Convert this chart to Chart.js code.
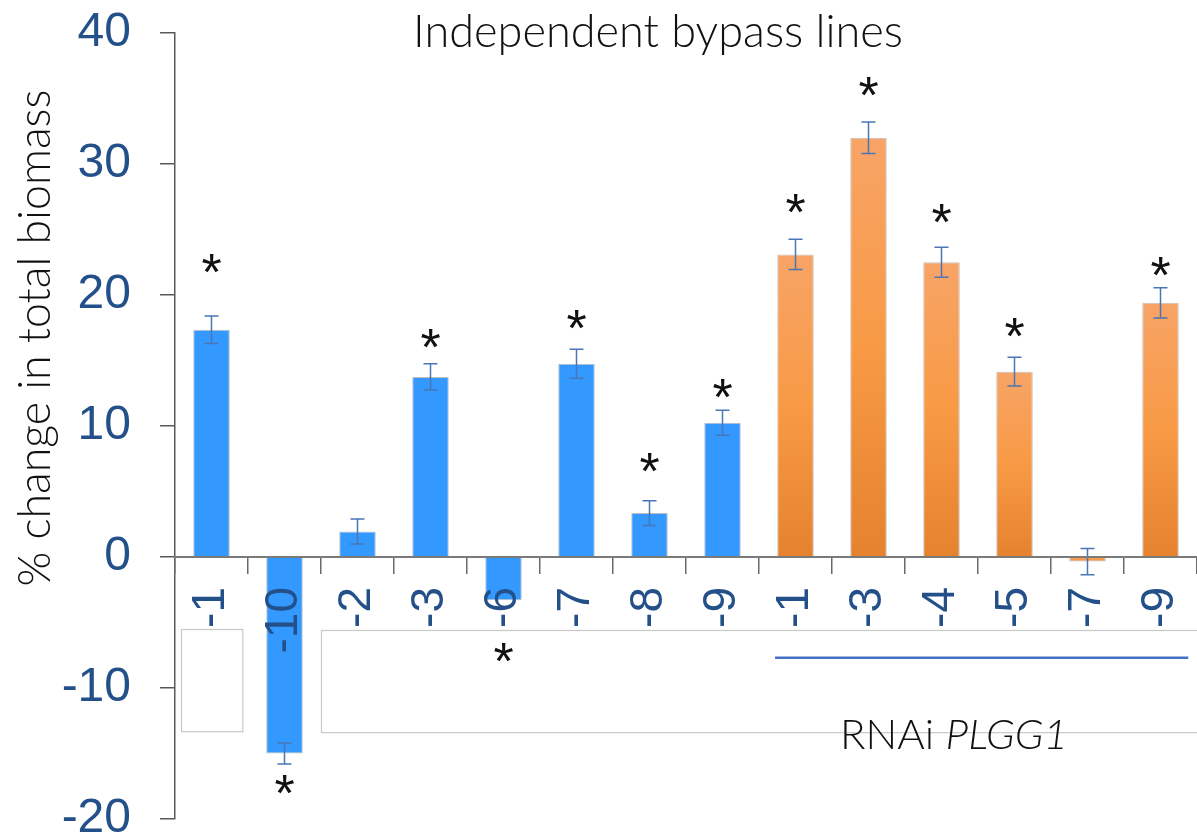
<!DOCTYPE html>
<html>
<head>
<meta charset="utf-8">
<script src="https://cdn.jsdelivr.net/npm/chart.js@4.4.1/dist/chart.umd.min.js"></script>
<style>
    html, body { margin: 0; padding: 0; background: #ffffff; }
    #wrap { width: 1197px; height: 839px; }
</style>
</head>
<body>
<div id="wrap"><canvas id="grafico" width="1197" height="839"></canvas></div>
<script>
// data
let lines = ["-1", "-10", "-2", "-3", "-6", "-7", "-8", "-9", "-1", "-3", "-4", "-5", "-7", "-9"];
let groups = ["bypass", "bypass", "bypass", "bypass", "bypass", "bypass", "bypass", "bypass",
              "rnai", "rnai", "rnai", "rnai", "rnai", "rnai"];
let values = [17.35, -15.0, 1.95, 13.75, -3.3, 14.75, 3.35, 10.25, 23.1, 32.0, 22.5, 14.15, -0.35, 19.4];
let errors = [1.05, 0.8, 0.95, 1.0, null, 1.1, 0.95, 0.95, 1.15, 1.2, 1.15, 1.1, 1.0, 1.15];
// height (in %) where each asterisk sits, null = not significant
let stars = [22.4, -17.4, null, 16.7, -7.3, 18.1, 7.2, 12.9, 27.0, 35.9, 26.2, 17.5, null, 22.2];
let yTicks = [-20, -10, 0, 10, 20, 30, 40];

let titleText = "Independent bypass lines";
let yTitleText = "% change in total biomass";
let groupText = ["RNAi ", "PLGG1"];

const LIGHT_FONT = "Lato, 'Open Sans', sans-serif";
const SANS_FONT = "'Liberation Sans', Arial, sans-serif";
const TICK_COLOR = "#24508a";

window.onload = function () {
    let ctx = document.getElementById("grafico").getContext("2d");
    new Chart(ctx, {
        type: "bar",
        data: {
            labels: lines,
            datasets: [{
                data: values,
                backgroundColor: barColor,
                borderColor: "rgba(185,185,185,0.9)",
                borderWidth: 1,
                barPercentage: 1,
                categoryPercentage: 0.5
            }]
        },
        options: {
            responsive: false,
            animation: false,
            layout: { padding: { left: 0, top: 33, right: 0, bottom: 20 } },
            plugins: {
                legend: { display: false },
                tooltip: { enabled: false }
            },
            scales: {
                x: {
                    position: { y: 0 },
                    grid: {
                        display: true,
                        drawOnChartArea: false,
                        drawTicks: true,
                        tickLength: 16,
                        color: "#6a6a6a",
                        lineWidth: 1.5,
                        offset: true,
                        z: 1
                    },
                    border: { display: true, color: "#7a7a7a", width: 2, z: 1 },
                    ticks: {
                        autoSkip: false,
                        minRotation: 90,
                        maxRotation: 90,
                        padding: 14,
                        color: TICK_COLOR,
                        font: { family: SANS_FONT, size: 46 },
                        z: 1
                    },
                    afterFit: function (scale) {
                        scale.height = 0;
                        scale.paddingLeft = 0;
                        scale.paddingRight = 0;
                    }
                },
                y: {
                    min: -20,
                    max: 40,
                    afterBuildTicks: function (scale) {
                        scale.ticks = yTicks.map(v => ({ value: v }));
                    },
                    grid: {
                        drawOnChartArea: false,
                        tickLength: 15,
                        color: "#595959",
                        lineWidth: 1.5
                    },
                    border: { color: "#595959", width: 1.5 },
                    ticks: {
                        padding: 29,
                        color: TICK_COLOR,
                        font: { family: SANS_FONT, size: 48 }
                    },
                    afterFit: function (scale) {
                        scale.width = 175;
                        scale.paddingTop = 0;
                        scale.paddingBottom = 0;
                    }
                }
            }
        },
        plugins: [groupBoxes, errorBars, texts]
    });
};

function barColor(context) {
    let i = context.dataIndex;
    if (groups[i] === "bypass") return "#3399ff";
    let chart = context.chart;
    if (!chart.chartArea) return "#f7963f";
    let y = chart.scales.y;
    let top = y.getPixelForValue(Math.max(values[i], 0));
    let bottom = y.getPixelForValue(Math.min(values[i], 0));
    if (bottom - top < 2) return "#f7963f";
    let g = chart.ctx.createLinearGradient(0, top, 0, bottom);
    g.addColorStop(0, "#f8a467");
    g.addColorStop(0.5, "#f89a45");
    g.addColorStop(1, "#e5822e");
    return g;
}

// thin outline boxes and the line under the RNAi group (x in category units, y in %)
let outlineBoxes = [[-0.42, 0.42, -5.5, -13.3], [1.5, 14.5, -5.6, -13.4]];
let rnaiLine = [7.72, 13.38, -7.7];

let groupBoxes = {
    id: "groupBoxes",
    beforeDatasetsDraw: function (chart) {
        let c = chart.ctx, x = chart.scales.x, y = chart.scales.y;
        c.save();
        c.strokeStyle = "#c8c8c8";
        c.lineWidth = 1.2;
        for (let b of outlineBoxes) {
            let x1 = x.getPixelForValue(b[0]), x2 = x.getPixelForValue(b[1]);
            let y1 = y.getPixelForValue(b[2]), y2 = y.getPixelForValue(b[3]);
            c.strokeRect(Math.round(x1) + 0.5, Math.round(y1) + 0.5, x2 - x1, y2 - y1);
        }
        c.strokeStyle = "#4472c4";
        c.lineWidth = 2.5;
        c.beginPath();
        c.moveTo(x.getPixelForValue(rnaiLine[0]), y.getPixelForValue(rnaiLine[2]));
        c.lineTo(x.getPixelForValue(rnaiLine[1]), y.getPixelForValue(rnaiLine[2]));
        c.stroke();
        c.restore();
    }
};

let errorBars = {
    id: "errorBars",
    afterDatasetsDraw: function (chart) {
        let c = chart.ctx, y = chart.scales.y;
        let bars = chart.getDatasetMeta(0).data;
        c.save();
        c.strokeStyle = "#4a76b6";
        c.lineWidth = 1.5;
        for (let i = 0; i < bars.length; i++) {
            if (errors[i] == null) continue;
            let bx = bars[i].x;
            let hi = y.getPixelForValue(values[i] + errors[i]);
            let lo = y.getPixelForValue(values[i] - errors[i]);
            c.beginPath();
            c.moveTo(bx, hi); c.lineTo(bx, lo);
            c.moveTo(bx - 7, hi); c.lineTo(bx + 7, hi);
            c.moveTo(bx - 7, lo); c.lineTo(bx + 7, lo);
            c.stroke();
        }
        c.fillStyle = "#111111";
        c.textAlign = "center";
        c.textBaseline = "alphabetic";
        c.font = "52px " + SANS_FONT;
        let m = c.measureText("*");
        let shift = (m.actualBoundingBoxAscent - m.actualBoundingBoxDescent) / 2;
        for (let i = 0; i < bars.length; i++) {
            if (stars[i] == null) continue;
            c.fillText("*", bars[i].x, y.getPixelForValue(stars[i]) + shift);
        }
        c.restore();
    }
};

function fitSize(c, text, style, width) {
    c.font = style + " 40px " + LIGHT_FONT;
    return 40 * width / c.measureText(text).width;
}

let texts = {
    id: "texts",
    afterDraw: function (chart) {
        let c = chart.ctx;
        c.save();
        c.fillStyle = "#111111";
        c.textBaseline = "alphabetic";

        // title
        let s = fitSize(c, titleText, "300", 490);
        c.font = "300 " + s + "px " + LIGHT_FONT;
        c.textAlign = "center";
        c.fillText(titleText, 658, 47);

        // y axis title
        s = fitSize(c, yTitleText, "300", 497);
        c.font = "300 " + s + "px " + LIGHT_FONT;
        c.save();
        c.translate(50, 338);
        c.rotate(-Math.PI / 2);
        c.fillText(yTitleText, 0, 0);
        c.restore();

        // group label
        c.textAlign = "left";
        c.font = "300 40px " + LIGHT_FONT;
        let w1 = c.measureText(groupText[0]).width;
        c.font = "italic 300 40px " + LIGHT_FONT;
        let w2 = c.measureText(groupText[1]).width;
        s = 40 * 228 / (w1 + w2);
        c.font = "300 " + s + "px " + LIGHT_FONT;
        c.fillText(groupText[0], 840, 749);
        w1 = c.measureText(groupText[0]).width;
        c.font = "italic 300 " + s + "px " + LIGHT_FONT;
        c.fillText(groupText[1], 840 + w1, 749);
        c.restore();
    }
};
</script>
</body>
</html>
